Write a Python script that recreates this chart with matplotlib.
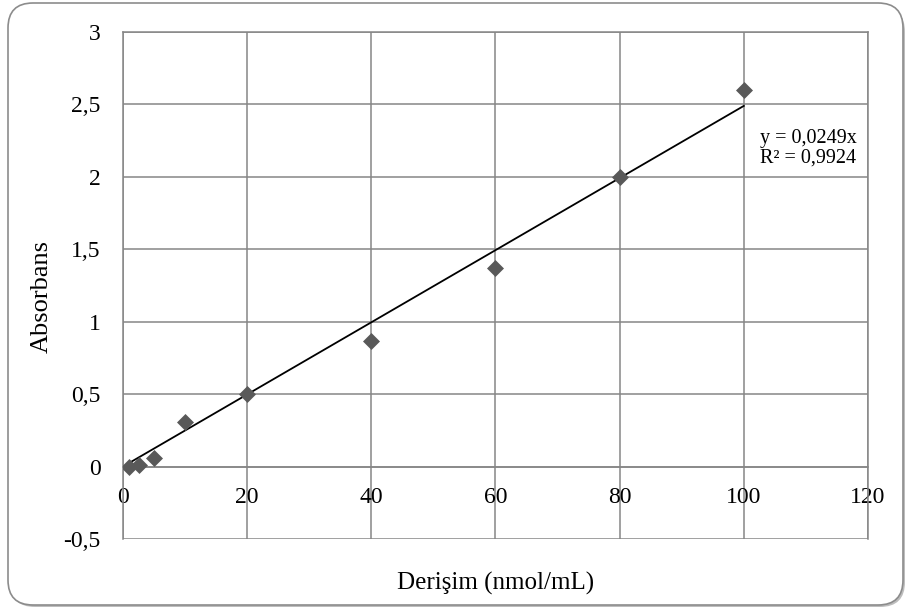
import matplotlib.pyplot as plt
from matplotlib.patches import FancyBboxPatch
import numpy as np

plt.rcParams['font.family'] = ['Liberation Serif', 'DejaVu Serif']

conc = [1, 2.5, 5, 10, 20, 40, 60, 80, 100]
absorb = [0.0, 0.01, 0.06, 0.31, 0.50, 0.87, 1.37, 2.00, 2.60]
slope = 0.0249
r2 = 0.9924

x_ticks = [0, 20, 40, 60, 80, 100, 120]
y_ticks = [-0.5, 0, 0.5, 1, 1.5, 2, 2.5, 3]
y_labels = ['-0,5', '0', '0,5', '1', '1,5', '2', '2,5', '3']

grey = '#868686'

fig = plt.figure(figsize=(9.07, 6.12), dpi=100)

# rounded outer frame with a little shadow, like the Excel chart area
shadow = FancyBboxPatch((0.10, 0.05), 8.95, 6.00, boxstyle='round,pad=0,rounding_size=0.25',
                        transform=fig.dpi_scale_trans, facecolor='#bdbdbd', edgecolor='none', zorder=-2)
frame = FancyBboxPatch((0.08, 0.07), 8.95, 6.02, boxstyle='round,pad=0,rounding_size=0.25',
                       transform=fig.dpi_scale_trans, facecolor='white', edgecolor='#8c8c8c',
                       linewidth=1.2, zorder=-1)
fig.patches.extend([shadow, frame])

ax = fig.add_axes([0.1356, 0.1193, 0.8214, 0.8284])
ax.patch.set_alpha(0)

ax.scatter(conc, absorb, marker='D', s=75, color='#595959', zorder=3, linewidths=0)

xs = np.array([min(conc), max(conc)])
ax.plot(xs, slope * xs, color='black', linewidth=1.3, zorder=2)

ax.set_xlim(0, 120)
ax.set_ylim(-0.5, 3)
ax.set_xticks(x_ticks)
ax.set_yticks(y_ticks)
ax.set_yticklabels(y_labels)
ax.grid(True, color=grey, linewidth=1.1)
ax.set_axisbelow(True)

for s in ax.spines.values():
    s.set_color(grey)
    s.set_linewidth(1.1)
ax.spines['bottom'].set_position(('data', 0))
ax.tick_params(axis='x', length=0, pad=15, labelsize=17)
ax.tick_params(axis='y', length=0, pad=16, labelsize=17)

ax.text(102.6, 2.2, 'y = 0,0249x\nR² = 0,9924', fontsize=14.5, va='center', ha='left',
        linespacing=1.05)

fig.text(0.046, 0.515, 'Absorbans', fontsize=19, rotation=90, ha='center', va='center')
fig.text(0.546, 0.046, 'Derişim (nmol/mL)', fontsize=18, ha='center', va='center')

fig.savefig('out.png', dpi=100)
